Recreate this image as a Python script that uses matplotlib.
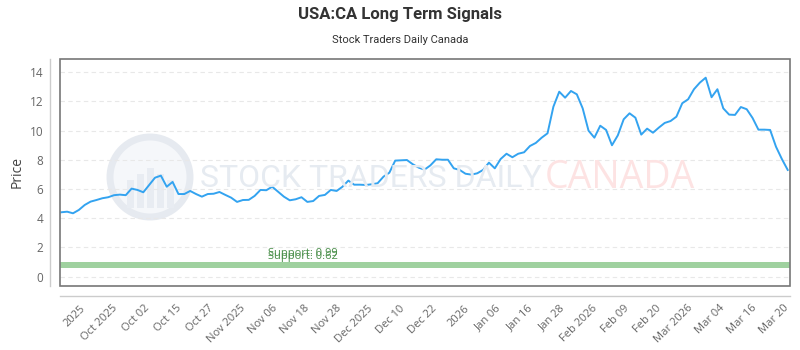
import numpy as np
import matplotlib
matplotlib.use("Agg")
import matplotlib.pyplot as plt
from matplotlib.patches import Circle, Rectangle

# price series
prices = [
    4.41, 4.45, 4.34, 4.57, 4.91, 5.14, 5.25, 5.37, 5.44, 5.58,
    5.62, 5.58, 6.03, 5.94, 5.78, 6.28, 6.78, 6.92, 6.16, 6.49,
    5.66, 5.66, 5.87, 5.66, 5.48, 5.66, 5.68, 5.80, 5.60, 5.41,
    5.12, 5.25, 5.26, 5.53, 5.94, 5.92, 6.16, 5.82, 5.48, 5.23,
    5.30, 5.44, 5.12, 5.18, 5.53, 5.60, 5.94, 5.87, 6.16, 6.58,
    6.30, 6.30, 6.28, 6.33, 6.40, 6.85, 7.12, 7.95, 7.97, 7.99,
    7.70, 7.47, 7.33, 7.62, 8.04, 8.01, 8.01, 7.42, 7.31, 7.05,
    6.99, 7.08, 7.31, 7.81, 7.42, 8.06, 8.42, 8.18, 8.42, 8.52,
    8.95, 9.16, 9.52, 9.82, 11.64, 12.67, 12.26, 12.72, 12.49, 11.53,
    10.00, 9.52, 10.34, 10.05, 9.00, 9.68, 10.78, 11.19, 10.89, 9.73,
    10.14, 9.86, 10.21, 10.53, 10.66, 10.96, 11.88, 12.15, 12.84, 13.29,
    13.63, 12.29, 12.84, 11.53, 11.10, 11.08, 11.62, 11.47, 10.87, 10.07,
    10.07, 10.05, 8.90, 8.06, 7.31,
]
tick_labels = [
    "2025", "Oct 2025", "Oct 02", "Oct 15", "Oct 27", "Nov 2025", "Nov 06",
    "Nov 18", "Nov 28", "Dec 2025", "Dec 10", "Dec 22", "2026", "Jan 06",
    "Jan 16", "Jan 28", "Feb 2026", "Feb 09", "Feb 20", "Mar 2026",
    "Mar 04", "Mar 16", "Mar 20",
]
support_low = 0.62
support_high = 0.99

grey = "#666666"
fam = ["Open Sans", "DejaVu Sans"]
narrow = ["Roboto", "DejaVu Sans"]

fig = plt.figure(figsize=(8, 3.5), dpi=100)
ax = fig.add_axes([0.075, 0.1829, 0.9125, 0.6485])

# offset axis lines + plot box (spine positions first: they reset the ticks)
for s in ("top", "right"):
    ax.spines[s].set_visible(False)
for s in ("left", "bottom"):
    ax.spines[s].set_position(("outward", 7.2))
    ax.spines[s].set_color("#cccccc")
    ax.spines[s].set_linewidth(1)
ax.add_patch(Rectangle((0, 0), 1, 1, transform=ax.transAxes, fill=False,
                       edgecolor="#777777", lw=1.2, clip_on=False, zorder=5))

x = np.arange(len(prices))
ax.plot(x, prices, color="#33a3f0", lw=1.4, zorder=3)

# support band
ax.axhspan(support_low, support_high, color="#9fd19f", lw=0, zorder=2)
ax.text(35.3, support_high + 0.22, f"Support: {support_high:.2f}", color="#4a8f4a",
        fontsize=8, family=fam, va="bottom", zorder=4)
ax.text(35.3, support_low + 0.4, f"Support: {support_low:.2f}", color="#4a8f4a",
        fontsize=8, family=fam, va="bottom", zorder=4)

ax.set_xlim(-0.22, 124.39)
ax.set_ylim(-0.64, 14.91)
ax.set_yticks(range(0, 15, 2))
ax.yaxis.grid(True, color="#e8e8e8", ls=(0, (4, 3)), lw=0.8)
ax.set_axisbelow(True)

ticks = np.linspace(3.2, 123.3, len(tick_labels))
ax.set_xticks(ticks)
ax.set_xticklabels(tick_labels)
ax.tick_params(length=0, pad=5)
plt.setp(ax.get_xticklabels(), rotation=45, ha="right", rotation_mode="anchor",
         family=fam, fontsize=8, color=grey)
plt.setp(ax.get_yticklabels(), family=fam, fontsize=8.5, color=grey)
ax.set_ylabel("Price", family=fam, fontsize=10, color="#444444")
ax.yaxis.set_label_coords(-0.049, 0.5)

# watermark
fig.add_artist(Circle((1.5, 1.73), 0.40, transform=fig.dpi_scale_trans,
                      facecolor="#f5f7fa", edgecolor="#e6eaf0", lw=5, zorder=0))
for bx, bh in [(1.27, 0.28), (1.37, 0.34), (1.47, 0.40), (1.57, 0.34), (1.67, 0.28)]:
    fig.add_artist(Rectangle((bx, 1.42), 0.07, bh, transform=fig.dpi_scale_trans,
                             facecolor="#e8ecf2", lw=0, zorder=0))
ax.patch.set_alpha(0)
fig.text(0.25, 0.49, "STOCK TRADERS DAILY", family=narrow, fontsize=23,
         color="#e6ebf1", va="center", ha="left", zorder=0)
fig.text(0.681, 0.49, "CANADA", family=fam, fontsize=27, color="#fde3e3",
         va="center", ha="left", zorder=0)

fig.text(0.5, 1 - 15 / 350, "USA:CA Long Term Signals", family=narrow,
         fontsize=12, weight="bold", color="#333333", ha="center", va="center")
fig.text(0.5, 1 - 40 / 350, "Stock Traders Daily Canada", family=narrow,
         fontsize=8, color="#333333", ha="center", va="center")

fig.savefig("out.png", dpi=100)
